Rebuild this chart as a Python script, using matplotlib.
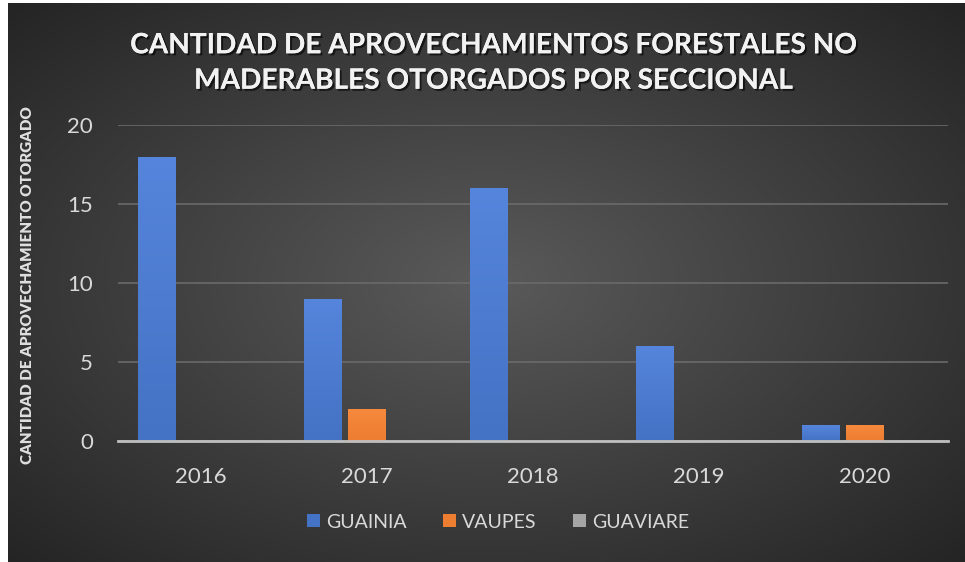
import numpy as np
import matplotlib
matplotlib.use("Agg")
import matplotlib.pyplot as plt
import matplotlib.patheffects as pe

years = ["2016", "2017", "2018", "2019", "2020"]
guainia = [18, 9, 16, 6, 1]
vaupes = [0, 2, 0, 0, 1]
guaviare = [0, 0, 0, 0, 0]
series_names = ["GUAINIA", "VAUPES", "GUAVIARE"]
title = "CANTIDAD DE APROVECHAMIENTOS FORESTALES NO\nMADERABLES OTORGADOS POR SECCIONAL"
ylabel = "CANTIDAD DE APROVECHAMIENTO OTORGADO"

plt.rcParams['font.family'] = ['Lato', 'DejaVu Sans']

W, H = 965, 562
fig = plt.figure(figsize=(W/100, H/100), dpi=100, facecolor="white")

# background radial gradient
bg = fig.add_axes([8/W, 0, 1-8/W, 1-3/H])
bg.set_axis_off()
yy, xx = np.mgrid[0:1:300j, 0:1:500j]
r = np.sqrt(((xx-0.5)/0.75)**2 + ((yy-0.5)/0.75)**2)
r = np.clip(r/0.95, 0, 1)
c0 = np.array([0x5a, 0x5a, 0x5a])/255
c1 = np.array([0x24, 0x24, 0x24])/255
img = c0[None, None, :]*(1-r[..., None]) + c1[None, None, :]*r[..., None]
bg.imshow(img, aspect='auto', extent=[0, 1, 0, 1], interpolation='bilinear')

ax = fig.add_axes([118/W, 1-441/H, (948-118)/W, (441-125)/H])
ax.patch.set_alpha(0)
x = np.arange(len(years))
w = 0.225
off = 0.27
cols = ["#4472c4", "#ed7d31", "#a5a5a5"]
tops = ["#5585dc", "#f5893c", "#b5b5b5"]
data = [guainia, vaupes, guaviare]
grad = np.linspace(0, 1, 100)[:, None]
for i, (vals, c, ct) in enumerate(zip(data, cols, tops)):
    bars = ax.bar(x + (i-1)*off, vals, width=w, color=c, label=series_names[i], zorder=3)
    ca = np.array(matplotlib.colors.to_rgb(c)); cb = np.array(matplotlib.colors.to_rgb(ct))
    for b in bars:
        if b.get_height() <= 0:
            continue
        g = ca[None, None, :]*(1-grad[..., None]) + cb[None, None, :]*grad[..., None]
        im = ax.imshow(g, aspect='auto', origin='lower',
                       extent=[b.get_x(), b.get_x()+b.get_width(), 0, b.get_height()],
                       zorder=4)
        im.set_clip_path(b)

ax.set_xlim(-0.5, len(years)-0.5)
ax.set_ylim(0, 20)
ax.set_yticks([0, 5, 10, 15, 20])
ax.set_xticks(x)
ax.set_xticklabels(years)
ax.grid(axis='y', color="#6a6a6a", linewidth=1.2, zorder=0)
for s in ["top", "right", "left"]:
    ax.spines[s].set_visible(False)
ax.spines["bottom"].set_color("#bfbfbf")
ax.spines["bottom"].set_linewidth(2)
ax.spines["bottom"].set_zorder(5)
ax.tick_params(axis='both', length=0, colors="#d9d9d9", labelsize=16)
ax.tick_params(axis='y', pad=18)
ax.tick_params(axis='x', pad=19)
for lab in ax.get_yticklabels() + ax.get_xticklabels():
    lab.set_color("#d9d9d9")

fig.text(28/W, 1-285/H, ylabel, rotation=90, ha='center', va='center',
         fontsize=10.9, fontweight='heavy', color="#e0e0e0")

fig.text(493/W, 1-63/H, title, ha='center', va='center', fontsize=20.2,
         fontweight='bold', color="#f2f2f2", linespacing=1.45,
         path_effects=[pe.withSimplePatchShadow(offset=(1.5, -1.5), shadow_rgbFace='black', alpha=0.6), pe.Normal()])

leg = fig.legend(loc='center', bbox_to_anchor=(498/W, 1-522/H), ncol=3, frameon=False,
                 fontsize=14, handlelength=0.65, handleheight=0.65, handletextpad=0.3,
                 columnspacing=1.9, labelcolor="#d9d9d9")

fig.savefig("out.png", dpi=100, facecolor="white")
